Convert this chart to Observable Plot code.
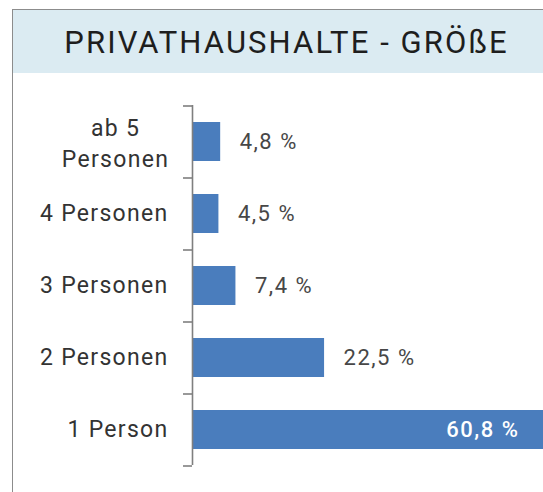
<!DOCTYPE html>
<html>
<head>
<meta charset="utf-8">
<script src="https://cdn.jsdelivr.net/npm/d3@7"></script>
<script src="https://cdn.jsdelivr.net/npm/@observablehq/plot@0.6"></script>
<style>
  html, body { margin: 0; padding: 0; background: #fff; overflow: hidden; width: 543px; height: 492px; }
  #box { position: absolute; left: 12px; top: 9px; width: 560px; height: 500px;
         border-left: 1.5px solid #8c8c8c; border-top: 1.5px solid #8c8c8c; box-sizing: border-box; }
  #title { height: 63px; line-height: 66px; background: #dbebf2; text-align: center;
           font-family: Roboto, sans-serif; font-size: 31px; letter-spacing: 2.1px; color: #1e1e1e; padding-right: 12px; }
  #chart { position: absolute; left: 0; top: 73px; }
  #chart text.cat { letter-spacing: 1.3px; }
  #chart text.val { letter-spacing: 1.5px; }
</style>
</head>
<body>
<div id="box"><div id="title">PRIVATHAUSHALTE - GRÖßE</div></div>
<div id="chart"></div>
<script>
const categories = ["ab 5\nPersonen", "4 Personen", "3 Personen", "2 Personen", "1 Person"];
const values = [4.8, 4.5, 7.4, 22.5, 60.8];
const valueLabels = ["4,8 %", "4,5 %", "7,4 %", "22,5 %", "60,8 %"];

const data = categories.map((c, i) => ({category: c, value: values[i], label: valueLabels[i]}));
const maxValue = d3.max(values);

const width = 543, height = 419, marginTop = 32, marginBottom = 27, marginLeft = 192;
const halfStep = (height - marginTop - marginBottom) / categories.length / 2;
const font = "Roboto, sans-serif";

const chart = Plot.plot({
  width, height, marginTop, marginBottom, marginLeft, marginRight: 0,
  style: {fontFamily: font, background: "transparent", overflow: "visible"},
  x: {domain: [0, 59.8], axis: null},
  y: {domain: categories, axis: null, paddingInner: 0.46, paddingOuter: 0.23},
  marks: [
    Plot.barX(data, {x: "value", y: "category", fill: "#4a7dbd"}),
    Plot.ruleX([0], {stroke: "#7f7f7f", strokeWidth: 1.6}),
    Plot.ruleY(categories, {y: d => d, x1: 0, x2: 0, insetLeft: -9, dy: -halfStep, stroke: "#7f7f7f", strokeWidth: 1.6}),
    Plot.ruleY(categories.slice(-1), {y: d => d, x1: 0, x2: 0, insetLeft: -9, dy: halfStep, stroke: "#7f7f7f", strokeWidth: 1.6}),
    Plot.text(data.filter(d => !d.category.includes("\n")), {x: 0, y: "category", text: "category", textAnchor: "end", dx: -24, fontSize: 23, fill: "#333"}),
    Plot.text(data.filter(d => d.category.includes("\n")), {x: 0, y: "category", text: "category", textAnchor: "middle", dx: -77, fontSize: 23, lineHeight: 1.35, fill: "#333"}),
    Plot.text(data.filter(d => d.value < maxValue), {x: "value", y: "category", text: "label", textAnchor: "start", dx: 19, fontSize: 22, fill: "#474747"}),
    Plot.text(data.filter(d => d.value === maxValue), {x: "value", y: "category", text: "label", textAnchor: "end", dx: -30, fontSize: 22, fontWeight: 500, fill: "#fff"})
  ]
});
d3.select(chart).selectAll("g[aria-label=text]").each(function (_, i) {
  d3.select(this).selectAll("text").classed(i < 2 ? "cat" : "val", true);
});
document.getElementById("chart").appendChild(chart);
</script>
</body>
</html>
